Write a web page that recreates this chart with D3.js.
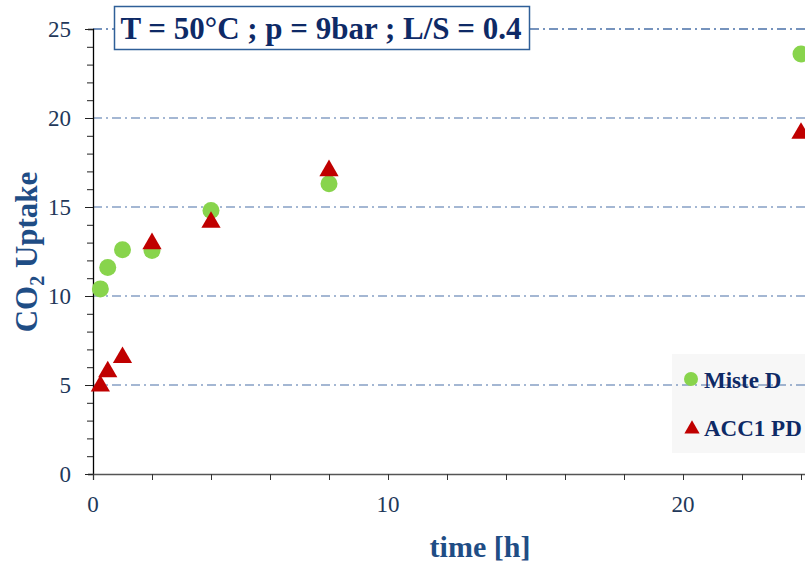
<!DOCTYPE html>
<html><head><meta charset="utf-8">
<script src="https://cdn.jsdelivr.net/npm/d3@7"></script>
<style>body{margin:0;background:#fff}svg{display:block}</style>
</head><body>
<script>
const timesMiste = [0.25, 0.5, 1, 2, 4, 8, 24];
const valuesMiste = [10.4, 11.6, 12.6, 12.55, 14.8, 16.3, 23.6];
const timesACC = [0.25, 0.5, 1, 2, 4, 8, 24];
const valuesACC = [5.0, 5.8, 6.6, 13.0, 14.2, 17.1, 19.2];
const xTickLabels = [0, 10, 20];
const yTickLabels = [0, 5, 10, 15, 20, 25];
const seriesNames = ["Miste D", "ACC1 PD"];
const titleText = "T = 50°C ; p = 9bar ; L/S = 0.4";

const W = 805, H = 567;
const svg = d3.select("body").append("svg").attr("width", W).attr("height", H);
const x = d3.scaleLinear().domain([0, 30]).range([93, 978]);
const y = d3.scaleLinear().domain([0, 25]).range([474, 29]);
const serif = "'Liberation Serif','Times New Roman',serif";

// legend background
svg.append("rect").attr("x", 672).attr("y", 354).attr("width", 140).attr("height", 99).attr("fill", "#f7f7f7");

// gridlines
svg.append("g").selectAll("line").data(yTickLabels.filter(d => d > 0)).join("line")
  .attr("x1", x(0)).attr("x2", W).attr("y1", d => y(d)).attr("y2", d => y(d))
  .attr("stroke", "#4a70a8").attr("stroke-width", d => d === 25 ? 1.6 : 1.1)
  .attr("stroke-dasharray", "9,4,2,4");

// y axis
const yAxis = svg.append("g").attr("transform", `translate(${x(0)},0)`)
  .call(d3.axisLeft(y).tickValues(d3.range(0, 26, 1)).tickSize(5).tickFormat(""));
yAxis.selectAll(".tick line").attr("stroke", "#222").attr("x2", d => d % 5 === 0 ? -8 : -6);
yAxis.select(".domain").attr("stroke", "#000").attr("stroke-width", 1.3);
svg.append("g").selectAll("text").data(yTickLabels).join("text")
  .attr("x", 71).attr("y", d => y(d) + 8).attr("text-anchor", "end")
  .attr("font-family", serif).attr("font-size", 23).attr("fill", "#22385a").text(d => d);

// x axis
const xAxis = svg.append("g").attr("transform", `translate(0,${y(0)})`)
  .call(d3.axisBottom(x).tickValues(d3.range(0, 31, 2)).tickSize(6).tickFormat(""));
xAxis.selectAll(".tick line").attr("stroke", "#333");
xAxis.select(".domain").attr("stroke", "#555").attr("stroke-width", 1.3);
svg.append("g").selectAll("text").data(xTickLabels).join("text")
  .attr("x", d => x(d)).attr("y", 512).attr("text-anchor", "middle")
  .attr("font-family", serif).attr("font-size", 23).attr("fill", "#22385a").text(d => d);

// axis titles
svg.append("text").attr("x", 480).attr("y", 557).attr("text-anchor", "middle")
  .attr("font-family", serif).attr("font-weight", "bold").attr("font-size", 30)
  .attr("fill", "#1f4d85").text("time [h]");
const yt = svg.append("text").attr("transform", "translate(37,252) rotate(-90)")
  .attr("text-anchor", "middle").attr("font-family", serif).attr("font-weight", "bold")
  .attr("font-size", 31).attr("fill", "#1f4d85");
yt.append("tspan").text("CO");
yt.append("tspan").attr("font-size", 20).attr("dy", 7).text("2");
yt.append("tspan").attr("dy", -7).text(" Uptake");

// title box
svg.append("rect").attr("x", 114.5).attr("y", 6.5).attr("width", 415).attr("height", 43)
  .attr("fill", "#fff").attr("stroke", "#2f5f98").attr("stroke-width", 1.5);
svg.append("text").attr("x", 321).attr("y", 39).attr("text-anchor", "middle")
  .attr("font-family", serif).attr("font-weight", "bold").attr("font-size", 31)
  .attr("fill", "#0e2a66").text(titleText);

// series
const tri = d3.symbol().type(d3.symbolTriangle).size(160);
svg.append("g").selectAll("circle").data(timesMiste.map((t, i) => [t, valuesMiste[i]])).join("circle")
  .attr("cx", d => x(d[0])).attr("cy", d => y(d[1])).attr("r", 8.5).attr("fill", "#88d44c");
svg.append("g").selectAll("path").data(timesACC.map((t, i) => [t, valuesACC[i]])).join("path")
  .attr("d", tri).attr("transform", d => `translate(${x(d[0])},${y(d[1]) + 1})`).attr("fill", "#c00000");

// legend
svg.append("circle").attr("cx", 691).attr("cy", 379).attr("r", 7).attr("fill", "#88d44c");
svg.append("path").attr("d", d3.symbol().type(d3.symbolTriangle).size(100)).attr("transform", "translate(692,429)").attr("fill", "#c00000");
svg.append("g").selectAll("text").data(seriesNames).join("text")
  .attr("x", 704).attr("y", (d, i) => 388 + i * 48)
  .attr("font-family", serif).attr("font-weight", "bold").attr("font-size", 23)
  .attr("fill", "#0e2a66").text(d => d);
</script>
</body></html>
